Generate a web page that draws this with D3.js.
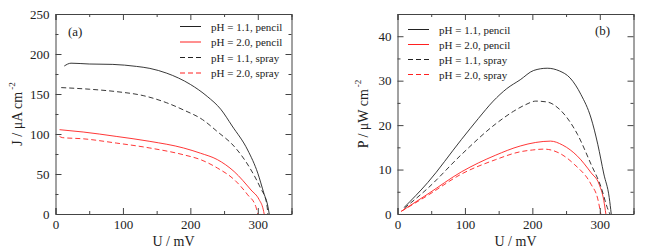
<!DOCTYPE html>
<html>
<head>
<meta charset="utf-8">
<script src="https://cdn.jsdelivr.net/npm/d3@7"></script>
<style>
  body { margin: 0; background: #fff; }
  svg { font-family: "Liberation Serif", "Times New Roman", serif; }
</style>
</head>
<body>
<div id="container"></div>
<script>
const WIDTH = 645;
const HEIGHT = 250;

// legend / series names
var seriesNames = ["pH = 1.1, pencil", "pH = 2.0, pencil", "pH = 1.1, spray", "pH = 2.0, spray"];

// panel (a): current density J (uA cm-2) vs U (mV)
var uJPencil11 = [13, 23, 50, 85, 120, 140, 165, 200, 225, 245, 262, 285, 300, 309, 315, 317];
var jPencil11 = [185, 188.5, 187.5, 187, 184.5, 182, 176, 162, 147, 131, 110, 80, 51, 26, 9.5, 0];
var uJPencil20 = [6, 41, 90, 140, 190, 215, 240, 265, 290, 302, 308, 309.5];
var jPencil20 = [105.4, 102.5, 97, 90.8, 82.5, 76, 68, 53, 30, 18, 6, 0];
var uJSpray11 = [8.5, 50, 90, 130, 165, 190, 218, 240, 265, 290, 304, 313, 315];
var jSpray11 = [158, 156, 153, 148, 139, 130, 118, 103, 84.5, 55, 32.5, 14, 0];
var uJSpray20 = [6, 10, 41, 90, 140, 190, 215, 240, 265, 285, 297, 300];
var jSpray20 = [97, 95.5, 94, 88.7, 82.5, 74, 68, 57.5, 43, 24, 9.5, 0];

// panel (b): power density P (uW cm-2) vs U (mV)
var uPPencil11 = [10, 45, 95, 120, 142, 162, 182, 202, 222, 240, 256, 272, 287, 297, 306, 314, 317];
var pPencil11 = [1.5, 7.1, 16.8, 21.5, 25.4, 28.2, 30.2, 32.3, 32.8, 32.2, 30.6, 26.9, 21.6, 15.7, 9, 3.7, 0];
var uPPencil20 = [5.5, 45, 95, 145, 182, 205, 227, 245, 267, 287, 299, 306, 309];
var pPencil20 = [0.6, 4.5, 9.5, 13.2, 15.3, 16.1, 16.4, 15.5, 13, 9.3, 6.7, 3, 0];
var uPSpray11 = [10, 45, 95, 145, 172, 190, 205, 222, 240, 267, 287, 302, 311, 315];
var pSpray11 = [1.3, 5.8, 13.4, 20.2, 23.1, 24.6, 25.4, 25.2, 23.6, 17.9, 11.2, 6, 1.5, 0];
var uPSpray20 = [5.5, 45, 95, 145, 182, 200, 217, 240, 262, 287, 297, 301.5];
var pSpray20 = [0.6, 4.2, 9.0, 12.2, 14.0, 14.4, 14.6, 13.7, 11.2, 6.7, 3.4, 0];

var xTicks = [0, 100, 200, 300];
var xMinor = [50, 150, 250, 350];
var jTicks = [0, 50, 100, 150, 200, 250];
var jMinor = [25, 75, 125, 175, 225];
var pTicks = [0, 10, 20, 30, 40];
var pMinor = [5, 15, 25, 35, 45];

var styles = [
    {color: "#222", dash: null},
    {color: "#ff2020", dash: null},
    {color: "#222", dash: "5,3"},
    {color: "#ff2020", dash: "5,3"}
];

var zip = function (xs, ys) {
    return xs.map(function (x, i) { return {x: x, y: ys[i]}; });
};

var drawPanel = function (svg, opt) {
    var x = d3.scaleLinear().domain([0, 350]).range(opt.xRange);
    var y = d3.scaleLinear().domain(opt.yDomain).range([214, 14]);
    var g = svg.append("g");

    var line = d3.line()
        .curve(d3.curveMonotoneX)
        .x(function (d) { return x(d.x); })
        .y(function (d) { return y(d.y); });
    opt.series.forEach(function (s, i) {
        g.append("path")
            .datum(s)
            .attr("fill", "none")
            .attr("stroke", styles[i].color)
            .attr("stroke-width", 0.9)
            .attr("stroke-dasharray", styles[i].dash)
            .attr("d", line);
    });

    var axes = [
        {ax: d3.axisBottom(x), t: "translate(0,214)", labels: true, ticks: xTicks, minor: xMinor},
        {ax: d3.axisTop(x), t: "translate(0,14)", labels: false, ticks: xTicks, minor: xMinor},
        {ax: d3.axisLeft(y), t: "translate(" + opt.xRange[0] + ",0)", labels: true, ticks: opt.yTicks, minor: opt.yMinor},
        {ax: d3.axisRight(y), t: "translate(" + opt.xRange[1] + ",0)", labels: false, ticks: opt.yTicks, minor: opt.yMinor}
    ];
    axes.forEach(function (a) {
        var major = g.append("g").attr("transform", a.t)
            .call(a.ax.tickValues(a.ticks).tickSize(-6).tickPadding(6)
                .tickFormat(a.labels ? d3.format("d") : ""));
        major.selectAll("text").attr("font-size", 13).attr("fill", "#222")
            .style("font-family", "Liberation Serif");
        major.selectAll("line,path").attr("stroke", "#444");
        var minor = g.append("g").attr("transform", a.t)
            .call(a.ax.tickValues(a.minor).tickSize(-3).tickFormat(""));
        minor.select(".domain").remove();
        minor.selectAll("line").attr("stroke", "#444");
    });

    var mid = (opt.xRange[0] + opt.xRange[1]) / 2;
    g.append("text")
        .attr("x", mid).attr("y", 246)
        .attr("text-anchor", "middle").attr("font-size", 14).attr("fill", "#222")
        .text("U / mV");

    var yl = g.append("text")
        .attr("transform", "translate(" + opt.yLabelX + ",114) rotate(-90)")
        .attr("text-anchor", "middle").attr("font-size", 14).attr("fill", "#222");
    yl.append("tspan").text(opt.yLabel);
    yl.append("tspan").attr("dy", -7).attr("dx", 2).attr("font-size", 9).text("-2");

    g.append("text")
        .attr("x", opt.tag[0]).attr("y", opt.tag[1])
        .attr("font-size", 13).attr("fill", "#222").text(opt.tag[2]);

    var lg = g.append("g");
    seriesNames.forEach(function (name, i) {
        var yy = opt.legend.y0 + i * opt.legend.dy;
        lg.append("line")
            .attr("x1", opt.legend.x).attr("x2", opt.legend.x + 21)
            .attr("y1", yy).attr("y2", yy)
            .attr("stroke", styles[i].color)
            .attr("stroke-width", 1)
            .attr("stroke-dasharray", styles[i].dash);
        lg.append("text")
            .attr("x", opt.legend.x + 31).attr("y", yy + 4)
            .attr("font-size", 11).attr("fill", "#222").text(name);
    });
};

var generateChart = function () {
    var svg = d3.select("#container").append("svg")
        .attr("width", WIDTH).attr("height", HEIGHT);

    drawPanel(svg, {
        xRange: [55.5, 291.5],
        yDomain: [0, 250],
        yTicks: jTicks, yMinor: jMinor,
        yLabel: "J / \u03bcA cm",
        yLabelX: 22,
        tag: [68, 36, "(a)"],
        legend: {x: 180, y0: 26.5, dy: 15.5},
        series: [zip(uJPencil11, jPencil11), zip(uJPencil20, jPencil20),
                 zip(uJSpray11, jSpray11), zip(uJSpray20, jSpray20)]
    });

    drawPanel(svg, {
        xRange: [397.5, 633.5],
        yDomain: [0, 45],
        yTicks: pTicks, yMinor: pMinor,
        yLabel: "P / \u03bcW cm",
        yLabelX: 368,
        tag: [595, 35, "(b)"],
        legend: {x: 408, y0: 29.5, dy: 15},
        series: [zip(uPPencil11, pPencil11), zip(uPPencil20, pPencil20),
                 zip(uPSpray11, pSpray11), zip(uPSpray20, pSpray20)]
    });
};

window.onload = generateChart;
</script>
</body>
</html>
